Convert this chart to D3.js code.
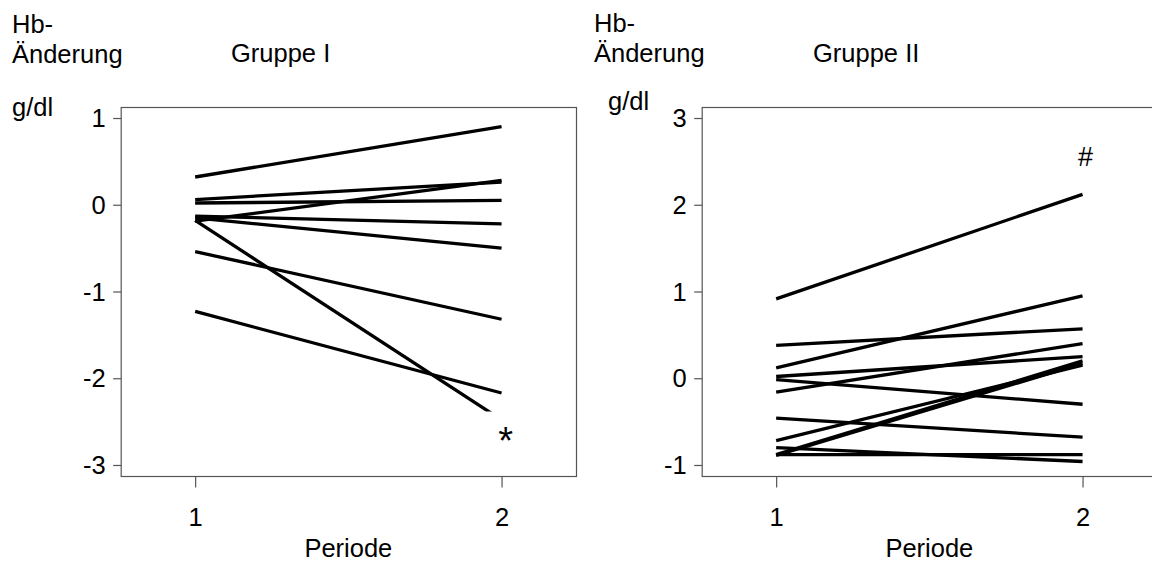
<!DOCTYPE html>
<html>
<head>
<meta charset="utf-8">
<script src="https://cdn.jsdelivr.net/npm/d3@7"></script>
<style>
  body { margin: 0; background: #fff; }
  svg text { font-family: "Liberation Sans", Arial, sans-serif; fill: #000; }
</style>
</head>
<body>
<svg id="chart" width="1152" height="563"></svg>
<script>
// Hb change (g/dl) per patient, period 1 vs period 2
const periods = [1, 2];
const periodTicks = ["1", "2"];

const groupIPeriod1 = [0.32, 0.06, 0.02, -0.19, -0.13, -0.15, -0.18, -0.54, -1.23];
const groupIPeriod2 = [0.90, 0.26, 0.05, 0.28, -0.22, -0.50, -2.48, -1.32, -2.17];

const groupIIPeriod1 = [0.915, 0.12, 0.38, -0.16, 0.02, -0.015, -0.46, -0.72, -0.88, -0.89, -0.80, -0.88];
const groupIIPeriod2 = [2.12, 0.95, 0.57, 0.40, 0.25, -0.30, -0.68, 0.15, 0.20, 0.17, -0.96, -0.88];

const groupITicks = [-3, -2, -1, 0, 1];
const groupIITicks = [-1, 0, 1, 2, 3];

const panelTitles = ["Gruppe I", "Gruppe II"];
const markers = ["*", "#"];

const svg = d3.select("#chart");
const FONT = 25.5;

function drawPanel(cfg) {
  const g = svg.append("g");
  const x = d3.scaleLinear().domain([0.757, 2.243]).range([cfg.left, cfg.left + 455.3]);
  const y = d3.scaleLinear().domain(cfg.yDomain).range([476, 107]);

  // frame
  g.append("rect")
    .attr("x", x.range()[0] + 0.5).attr("y", y.range()[1] + 0.5)
    .attr("width", x.range()[1] - x.range()[0]).attr("height", y.range()[0] - y.range()[1])
    .attr("fill", "none").attr("stroke", "#555").attr("stroke-width", 1.2);

  // y axis
  const yAxis = d3.axisLeft(y).tickValues(cfg.yTicks).tickFormat(d3.format("d"))
    .tickSize(8).tickPadding(7.5).tickSizeOuter(0);
  const ya = g.append("g").attr("transform", `translate(${x.range()[0] + 0.5},0)`).call(yAxis);
  ya.select(".domain").remove();
  ya.selectAll(".tick line").attr("stroke", "#555").attr("stroke-width", 1.2);
  ya.selectAll(".tick text").attr("font-size", FONT).attr("dy", "0.34em")
    .text(d => d < 0 ? "-" + Math.abs(d) : d);

  // x axis
  const xAxis = d3.axisBottom(x).tickValues(periods).tickFormat((d, i) => periodTicks[i])
    .tickSize(11).tickPadding(20).tickSizeOuter(0);
  const xa = g.append("g").attr("transform", `translate(0,${y.range()[0] + 0.5})`).call(xAxis);
  xa.select(".domain").remove();
  xa.selectAll(".tick line").attr("stroke", "#555").attr("stroke-width", 1.2);
  xa.selectAll(".tick text").attr("font-size", FONT).attr("dy", "0.71em");

  // clip region for the lines
  const clipId = "clip" + cfg.index;
  g.append("clipPath").attr("id", clipId).append("rect")
    .attr("x", x.range()[0]).attr("y", y.range()[1])
    .attr("width", x.range()[1] - x.range()[0])
    .attr("height", y(cfg.clipFloor) - y.range()[1]);

  const rows = cfg.p1.map((v, i) => [v, cfg.p2[i]]);
  const line = d3.line().x((d, i) => x(periods[i])).y(d => y(d));
  g.append("g").attr("clip-path", `url(#${clipId})`)
    .selectAll("path").data(rows).join("path")
    .attr("d", line)
    .attr("fill", "none").attr("stroke", "#000").attr("stroke-width", 3.3)
    .attr("stroke-linecap", "butt");

  // significance marker
  g.append("text")
    .attr("x", x(2) + cfg.markerDx).attr("y", y(cfg.markerAt))
    .attr("text-anchor", "middle").attr("font-size", cfg.markerSize)
    .text(markers[cfg.index]);

  // titles / labels
  g.append("text").attr("x", cfg.labelX).attr("y", cfg.hbY).attr("font-size", FONT).text("Hb-");
  g.append("text").attr("x", cfg.labelX).attr("y", cfg.hbY + 30).attr("font-size", FONT).text("Änderung");
  g.append("text").attr("x", cfg.titleX).attr("y", 62).attr("font-size", FONT).text(panelTitles[cfg.index]);
  g.append("text").attr("x", cfg.unitX).attr("y", cfg.unitY).attr("font-size", FONT).text("g/dl");
  g.append("text").attr("x", (x.range()[0] + x.range()[1]) / 2).attr("y", 557)
    .attr("text-anchor", "middle").attr("font-size", FONT).text("Periode");
}

drawPanel({
  index: 0, left: 120.7, yDomain: [-3.127, 1.127], yTicks: groupITicks,
  p1: groupIPeriod1, p2: groupIPeriod2, clipFloor: -2.384,
  markerAt: -2.87, markerDx: 4, markerSize: 38,
  labelX: 12, hbY: 33, titleX: 231, unitX: 12, unitY: 116
});

drawPanel({
  index: 1, left: 701.7, yDomain: [-1.127, 3.127], yTicks: groupIITicks,
  p1: groupIIPeriod1, p2: groupIIPeriod2, clipFloor: -1.127,
  markerAt: 2.45, markerDx: 3, markerSize: 27,
  labelX: 594, hbY: 32, titleX: 813, unitX: 608, unitY: 110
});
</script>
</body>
</html>
